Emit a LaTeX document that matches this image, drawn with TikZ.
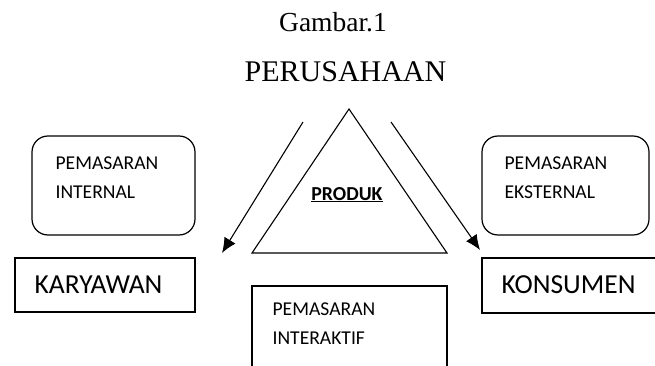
\documentclass[tikz,border=0pt]{standalone}
\usepackage{fontspec}
\setmainfont{Carlito}
\newfontfamily\timesfont{Liberation Serif}
\usetikzlibrary{arrows.meta}

\begin{document}
\begin{tikzpicture}[x=1pt,y=-1pt,line width=1.2pt,
  box/.style={draw,rectangle,inner sep=0pt},
  round box/.style={box,rounded corners=16pt},
  box text/.style={inner sep=0pt,anchor=north west,align=left,font=\fontsize{19.6}{28.5}\selectfont},
  big text/.style={inner sep=0pt,anchor=base west,font=\fontsize{27.5}{30}\selectfont},
  main arrow/.style={-{Latex[length=15pt,width=13pt]},line width=1.1pt}]
\path[use as bounding box,clip] (0,0) rectangle (655,366);

\coordinate (apex) at (349,109);
\coordinate (baseleft) at (252,253);
\coordinate (baseright) at (447,253);

% Titles
\node[inner sep=0pt,anchor=base,font=\timesfont\fontsize{27.5}{30}\selectfont] (title) at (333,32) {Gambar.1};
\node[inner sep=0pt,anchor=base,font=\timesfont\fontsize{30}{33}\selectfont] (company) at (345.5,82) {PERUSAHAAN};

% Triangle
\draw[line width=1.1pt] (apex) -- (baseleft) -- (baseright) -- cycle;
\node[inner sep=0pt,anchor=base,font=\bfseries\fontsize{19.8}{22}\selectfont] (product) at (347,200) {\underline{PRODUK}};

% Rounded boxes
\draw[round box] (32,136) rectangle (195,235);
\node[box text] (internal) at (55,156.5) {PEMASARAN\\INTERNAL};
\draw[round box] (482,136) rectangle (649,235);
\node[box text] (external) at (504,156.5) {PEMASARAN\\EKSTERNAL};

% Boxes below
\draw[box] (15,258) rectangle (195,312);
\node[big text] (employee) at (34,293) {KARYAWAN};
\draw[box] (482,258) rectangle (670,313);
\node[big text] (consumer) at (501,293) {KONSUMEN};
\draw[box] (252,286) rectangle (447,380);
\node[box text] (interactive) at (272,302.5) {PEMASARAN\\INTERAKTIF};

% Arrows
\coordinate (leftstart) at (303,122);
\coordinate (leftend) at (222,253);
\coordinate (rightstart) at (391,122);
\coordinate (rightend) at (480,250);
\draw[main arrow] (leftstart) -- (leftend);
\draw[main arrow] (rightstart) -- (rightend);

\end{tikzpicture}
\end{document}
